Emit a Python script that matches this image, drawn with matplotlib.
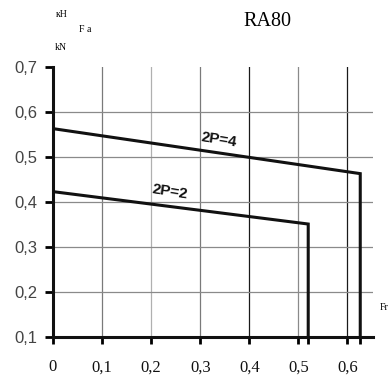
import matplotlib.pyplot as plt

# load curves: (Fr, Fa) break points, in kN
fr_2p4 = [0.0, 0.626, 0.626]
fa_2p4 = [0.563, 0.463, 0.1]
fr_2p2 = [0.0, 0.52, 0.52]
fa_2p2 = [0.423, 0.351, 0.1]

x_ticks = [0.0, 0.1, 0.2, 0.3, 0.4, 0.5, 0.6]
x_labels = ['0', '0,1', '0,2', '0,3', '0,4', '0,5', '0,6']
y_ticks = [0.1, 0.2, 0.3, 0.4, 0.5, 0.6, 0.7]
y_labels = ['0,1', '0,2', '0,3', '0,4', '0,5', '0,6', '0,7']

# grid shades per vertical line
v_shades = ['#7a7a7a', '#b0b0b0', '#7a7a7a', '#1a1a1a', '#8a8a8a', '#1a1a1a']

fig = plt.figure(figsize=(3.89, 3.78), dpi=100)
ax = fig.add_axes([0.1362, 0.1085, 0.8227, 0.7143])
ax.set_xlim(0, 0.652)
ax.set_ylim(0.1, 0.7)

for xv, c in zip(x_ticks[1:], v_shades):
    ax.axvline(xv, color=c, lw=0.9, zorder=1)
for yv in y_ticks[1:-1]:
    ax.axhline(yv, color='#8a8a8a', lw=0.9, zorder=1)

ax.plot(fr_2p4, fa_2p4, color='#111111', lw=2.2, zorder=3, solid_joinstyle='miter')
ax.plot(fr_2p2, fa_2p2, color='#111111', lw=2.2, zorder=3, solid_joinstyle='miter')

ax.text(0.338, 0.538, '2P=4', rotation=-9, ha='center', va='center',
        fontsize=11, fontweight='bold', family='Liberation Sans', color='#111111')
ax.text(0.238, 0.422, '2P=2', rotation=-9, ha='center', va='center',
        fontsize=11, fontweight='bold', family='Liberation Sans', color='#111111')

for side in ['top', 'right']:
    ax.spines[side].set_visible(False)
for side in ['left', 'bottom']:
    ax.spines[side].set_linewidth(2.2)
    ax.spines[side].set_color('#111111')

ax.set_xticks(x_ticks)
ax.set_xticklabels(x_labels, family='Liberation Serif', fontsize=12, color='#111111')
ax.set_yticks(y_ticks)
ax.set_yticklabels(y_labels, family='Liberation Sans', fontsize=12, color='#444444')
ax.set_xticks([fr_2p2[-1], fr_2p4[-1]], minor=True)
ax.tick_params(axis='x', which='both', direction='out', length=5, width=2, pad=11)
ax.tick_params(axis='y', direction='out', length=6, width=2, pad=5)

fig.text(267 / 389, 1 - 22 / 378, 'RA80', ha='center', va='center',
         family='Liberation Serif', fontsize=14.5)
fig.text(62 / 389, 1 - 14.5 / 378, 'кН', ha='center', va='center',
         family='Liberation Serif', fontsize=7)
fig.text(85 / 389, 1 - 29 / 378, 'F a', ha='center', va='center',
         family='Liberation Serif', fontsize=7)
fig.text(61 / 389, 1 - 48 / 378, 'kN', ha='center', va='center',
         family='Liberation Serif', fontsize=7)
fig.text(380 / 389, 1 - 308 / 378, 'Fr', ha='left', va='center',
         family='Liberation Serif', fontsize=7)

fig.savefig('out.png', dpi=100)
